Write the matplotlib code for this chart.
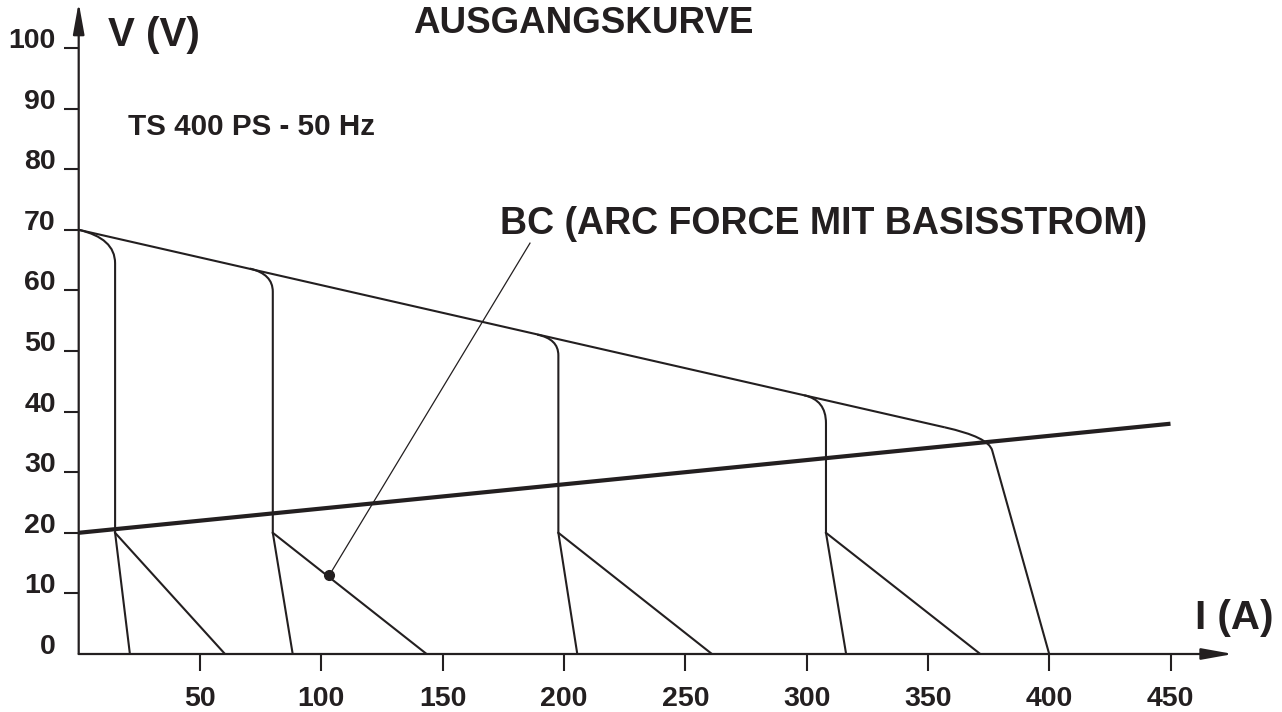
import matplotlib
matplotlib.use('Agg')
import matplotlib.pyplot as plt
from matplotlib.path import Path
from matplotlib.patches import PathPatch, ArrowStyle

plt.rcParams['font.family'] = ['Liberation Sans', 'DejaVu Sans']
plt.rcParams['font.weight'] = 'bold'

ink = '#231f20'

# axis ticks
x_ticks = [50, 100, 150, 200, 250, 300, 350, 400, 450]
y_ticks = [0, 10, 20, 30, 40, 50, 60, 70, 80, 90, 100]

# upper envelope (open circuit voltage falling with current)
env_x = [0, 357]
env_y = [70, 37.4]

# last curve (max setting) rounds off the envelope and falls to 400 A
last_ctrl = (375, 35.8)
last_knee = (376.5, 33.6)
last_end = (400, 0)

# the four lower settings: rounded corner from envelope, vertical drop to 20 V,
# then a short leg and a long leg down to 0 V
corner_start_x = [0, 70.6, 189, 299]
corner_start_y = [70, 63.6, 52.7, 42.7]
drop_x = [15, 80, 197.7, 308]
drop_ctrl_y = [68.6, 62.7, 52.0, 41.9]
drop_top_y = [64.5, 59.8, 49.3, 38.1]
knee_y = [20, 20, 20, 20]
short_leg_x = [21.1, 88.2, 205.5, 316.3]
long_leg_x = [60.3, 143.4, 261, 371.6]

# load line (thick)
load_x = [0, 450]
load_y = [20, 38]

# BC annotation
bc_dot = (103.3, 13.0)
bc_line_end = (186, 67.8)
bc_text = 'BC (ARC FORCE MIT BASISSTROM)'

fig = plt.figure(figsize=(12.82, 7.12), dpi=100)
W, H = 1282, 712
x0_px, x450_px = 78.7, 1170.5
y0_px, y100_px = 654, 48
ax = fig.add_axes([x0_px / W, (H - y0_px) / H, (x450_px - x0_px) / W, (y0_px - y100_px) / H])
ax.set_xlim(0, 450)
ax.set_ylim(0, 100)
for s in ax.spines.values():
    s.set_visible(False)

thin = 1.5

ax.plot(env_x, env_y, color=ink, lw=thin, solid_capstyle='butt')
p = Path([(env_x[1], env_y[1]), last_ctrl, last_knee, last_end],
         [Path.MOVETO, Path.CURVE3, Path.CURVE3, Path.LINETO])
ax.add_patch(PathPatch(p, fill=False, edgecolor=ink, lw=thin))

for i in range(len(drop_x)):
    verts = [(corner_start_x[i], corner_start_y[i]),
             (drop_x[i], drop_ctrl_y[i]),
             (drop_x[i], drop_top_y[i]),
             (drop_x[i], knee_y[i]),
             (short_leg_x[i], 0)]
    codes = [Path.MOVETO, Path.CURVE3, Path.CURVE3, Path.LINETO, Path.LINETO]
    ax.add_patch(PathPatch(Path(verts, codes), fill=False, edgecolor=ink, lw=thin,
                           joinstyle='miter'))
    ax.plot([drop_x[i], long_leg_x[i]], [knee_y[i], 0], color=ink, lw=thin)

ax.plot(load_x, load_y, color=ink, lw=3.0, solid_capstyle='butt')

ax.plot([bc_dot[0], bc_line_end[0]], [bc_dot[1], bc_line_end[1]], color=ink, lw=0.9)
ax.plot(*bc_dot, 'o', color=ink, ms=7)
ax.text(173.6, 71.0, bc_text, fontsize=27, color=ink, va='center', ha='left')

# axes with arrows
head = ArrowStyle('-|>', head_length=1.0, head_width=0.18)
ax.annotate('', xy=(475.8, 0), xytext=(0, 0), annotation_clip=False,
            arrowprops=dict(arrowstyle=head, mutation_scale=19, lw=1.6, color=ink,
                            shrinkA=0, shrinkB=0))
ax.annotate('', xy=(0, 107.5), xytext=(0, 0), annotation_clip=False,
            arrowprops=dict(arrowstyle=head, mutation_scale=19, lw=1.6, color=ink,
                            shrinkA=0, shrinkB=0))

ax.set_xticks(x_ticks)
ax.set_xticklabels([str(v) for v in x_ticks])
ax.set_yticks(y_ticks)
ax.set_yticklabels([str(v) for v in y_ticks])
ax.tick_params(axis='both', colors=ink, width=1.5, labelsize=20.5)
ax.tick_params(axis='x', length=12.2, pad=11)
ax.tick_params(axis='y', length=10.8, pad=5.8)
for lab in ax.get_yticklabels():
    lab.set_va('baseline')
ax.yaxis.get_major_ticks()[0].tick1line.set_visible(False)

ax.text(12.1, 102.2, 'V (V)', fontsize=29, color=ink, va='center', ha='left', clip_on=False)
ax.text(207.9, 104.0, 'AUSGANGSKURVE', fontsize=26.5, color=ink, va='center', ha='center', clip_on=False)
ax.text(20.3, 87.0, 'TS 400 PS - 50 Hz', fontsize=21.3, color=ink, va='center', ha='left')
ax.text(460.2, 6.0, 'I (A)', fontsize=29, color=ink, va='center', ha='left', clip_on=False)

fig.savefig('out.png', dpi=100)
